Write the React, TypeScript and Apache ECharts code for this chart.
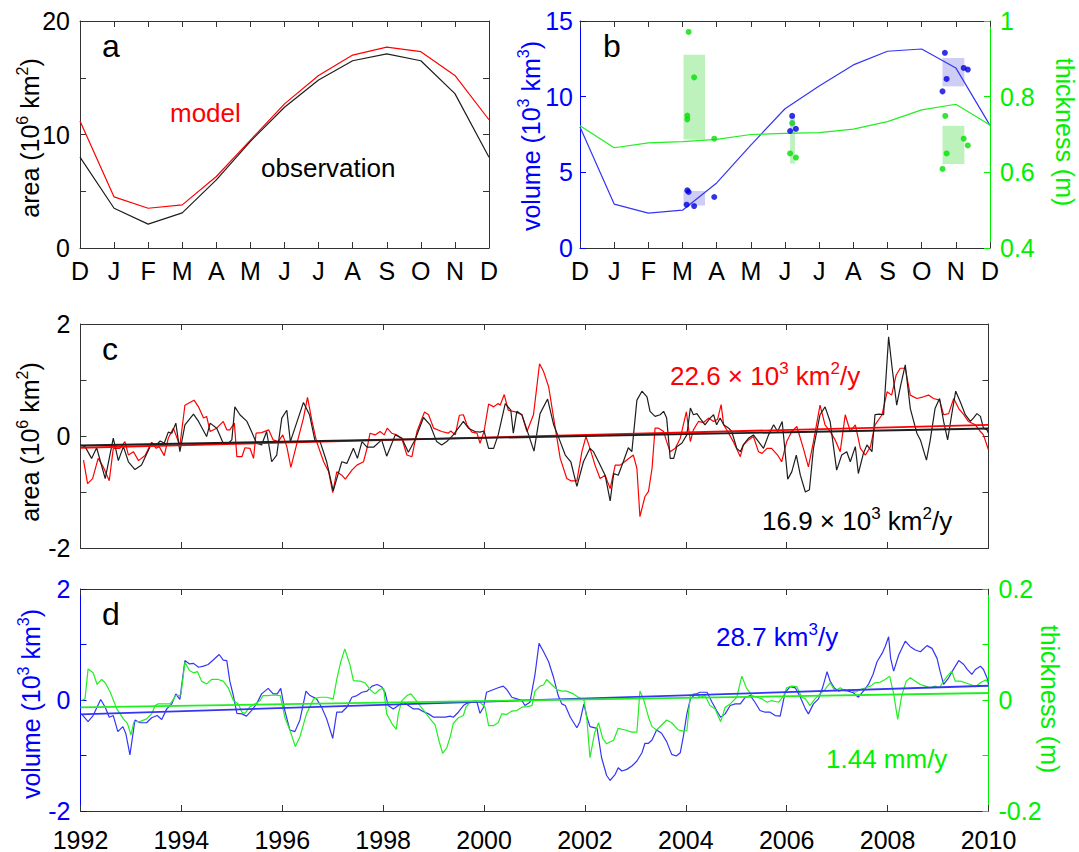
import React, { useEffect, useRef } from 'react';
import * as echarts from 'echarts';

const FONT = "'Liberation Sans', Arial, Helvetica, sans-serif";

// ---- panels a & b: seasonal cycle (x = month index, D=0 ... D=12)
const MONTHS = ['D', 'J', 'F', 'M', 'A', 'M', 'J', 'J', 'A', 'S', 'O', 'N', 'D'];
const MONTH_POS = [0, 1, 2, 3, 4, 5, 6, 7, 8, 9, 10, 11, 12];
const AREA_MODEL = [11.2, 4.5, 3.5, 3.8, 6.3, 9.5, 12.7, 15.2, 17.0, 17.7, 17.3, 15.2, 11.3];
const AREA_OBS = [8.0, 3.5, 2.1, 3.1, 6.0, 9.4, 12.4, 14.8, 16.5, 17.1, 16.5, 13.6, 8.0];
const VOLUME = [8.0, 2.9, 2.3, 2.5, 4.3, 6.8, 9.2, 10.7, 12.1, 13.0, 13.15, 11.9, 8.1];
const THICKNESS = [0.723, 0.665, 0.678, 0.681, 0.687, 0.7, 0.703, 0.705, 0.714, 0.734, 0.765, 0.78, 0.725];
const VOLUME_OBS: [number, number][] = [
  [3.14, 3.81], [3.18, 3.7], [3.12, 2.86], [3.34, 2.77], [3.93, 3.37],
  [6.21, 8.73], [6.15, 7.73], [6.32, 7.87],
  [10.68, 12.9], [10.61, 10.35], [10.73, 11.17], [11.23, 11.9], [11.35, 11.79],
];
const THICK_OBS: [number, number][] = [
  [3.18, 0.971], [3.34, 0.851], [3.14, 0.75], [3.14, 0.74], [3.93, 0.689],
  [6.21, 0.73], [6.15, 0.65], [6.32, 0.639],
  [10.69, 0.749], [10.73, 0.65], [10.61, 0.609], [11.23, 0.689], [11.35, 0.671],
];
// ranges: [xFrom, xTo, yFrom, yTo]
const VOLUME_RANGES = [
  [3.03, 3.66, 2.81, 3.77],
  [6.15, 6.29, 7.73, 8.7],
  [10.61, 11.25, 10.68, 12.56],
];
const THICK_RANGES = [
  [3.03, 3.66, 0.687, 0.911],
  [6.15, 6.29, 0.623, 0.716],
  [10.61, 11.25, 0.622, 0.723],
];

// ---- panel c: area anomalies (10^6 km^2)
const AREA_MODEL_ANOM: [number, number][] = [
  [1992.06, -0.43], [1992.14, -0.85], [1992.24, -0.76], [1992.35, -0.4], [1992.45, -0.55], [1992.57, -0.8], [1992.65, -0.22], [1992.78, -0.22], [1992.88, -0.1], [1992.95, -0.34],
  [1993.05, -0.28], [1993.15, -0.44], [1993.28, -0.35], [1993.41, -0.11], [1993.5, -0.22], [1993.56, -0.19], [1993.66, -0.35], [1993.74, -0.04], [1993.84, 0.14], [1993.97, -0.17],
  [1994.07, 0.55], [1994.25, 0.64], [1994.34, 0.52], [1994.44, 0.32], [1994.5, 0.35], [1994.57, 0.08], [1994.7, 0.14], [1994.83, 0.26], [1994.9, 0.11], [1994.96, 0.11],
  [1995.05, 0.23], [1995.1, -0.37], [1995.2, -0.37], [1995.26, -0.21], [1995.36, -0.22], [1995.43, -0.4], [1995.48, 0.05], [1995.59, 0.06], [1995.73, 0.11], [1995.82, -0.07], [1995.92, -0.1],
  [1996.01, 0.02], [1996.09, -0.19], [1996.17, -0.56], [1996.29, -0.13], [1996.42, 0.32], [1996.5, 0.69], [1996.59, 0.26], [1996.68, -0.1], [1996.82, -0.46], [1996.92, -0.64],
  [1997.0, -1.01], [1997.08, -0.64], [1997.18, -0.7], [1997.25, -0.77], [1997.38, -0.61], [1997.48, -0.52], [1997.61, -0.46], [1997.68, -0.22], [1997.74, 0.05], [1997.84, 0.02], [1997.94, 0.08],
  [1998.02, 0.02], [1998.08, 0.14], [1998.17, 0.05], [1998.27, 0.02], [1998.37, -0.04], [1998.47, -0.34], [1998.57, -0.37], [1998.67, 0.08], [1998.82, 0.43], [1998.9, 0.38],
  [1999.0, 0.14], [1999.16, 0.08], [1999.29, 0.05], [1999.34, 0.09], [1999.43, 0.02], [1999.51, 0.37], [1999.59, 0.38], [1999.66, 0.2], [1999.76, 0.07], [1999.86, 0.05], [1999.92, -0.13],
  [2000.0, 0.08], [2000.09, 0.57], [2000.19, 0.52], [2000.28, 0.58], [2000.32, 0.55], [2000.4, 0.74], [2000.48, 0.46], [2000.62, 0.43], [2000.75, 0.38], [2000.85, 0.08], [2000.98, 0.38],
  [2001.1, 1.29], [2001.18, 1.15], [2001.28, 0.88], [2001.38, 0.32], [2001.51, -0.4], [2001.64, -0.76], [2001.72, -0.8], [2001.84, -0.8], [2001.94, -0.28],
  [2002.02, -0.01], [2002.1, -0.22], [2002.2, -0.52], [2002.3, -0.76], [2002.4, -0.7], [2002.5, -0.94], [2002.6, -0.52], [2002.7, -0.52], [2002.83, -0.43], [2002.96, -0.34],
  [2003.03, -0.58], [2003.09, -1.44], [2003.19, -1.08], [2003.26, -0.99], [2003.33, -0.58], [2003.39, 0.14], [2003.46, 0.14], [2003.56, 0.08], [2003.62, -0.1], [2003.69, -0.28], [2003.79, -0.22], [2003.89, -0.04],
  [2004.01, 0.43], [2004.09, -0.1], [2004.15, 0.11], [2004.25, 0.26], [2004.35, 0.24], [2004.45, 0.32], [2004.55, 0.26], [2004.63, 0.3], [2004.7, 0.56], [2004.75, 0.2], [2004.85, 0.05], [2004.94, -0.1],
  [2005.08, -0.37], [2005.14, -0.16], [2005.24, -0.07], [2005.34, -0.01], [2005.44, -0.28], [2005.51, -0.31], [2005.61, -0.22], [2005.7, -0.22], [2005.82, -0.34], [2005.9, -0.46],
  [2006.0, -0.1], [2006.1, 0.08], [2006.2, 0.17], [2006.33, -0.22], [2006.43, -0.55], [2006.53, -0.1], [2006.66, 0.55], [2006.76, 0.2], [2006.86, 0.08], [2006.96, -0.07],
  [2007.06, -0.28], [2007.16, 0.38], [2007.26, 0.08], [2007.36, 0.2], [2007.46, -0.22], [2007.56, -0.34], [2007.66, -0.19], [2007.75, 0.2], [2007.89, 0.38], [2007.99, 0.79],
  [2008.08, 0.73], [2008.17, 1.09], [2008.25, 1.21], [2008.35, 1.21], [2008.45, 0.73], [2008.58, 0.67], [2008.71, 0.7], [2008.81, 0.73], [2008.91, 0.67],
  [2009.03, 0.64], [2009.11, 0.38], [2009.21, 0.4], [2009.31, 0.67], [2009.41, 0.49], [2009.51, 0.38], [2009.6, 0.26], [2009.74, 0.2], [2009.84, 0.08], [2009.9, 0.02], [2010.0, -0.25],
];
const AREA_OBS_ANOM: [number, number][] = [
  [1992.0, -0.16], [1992.09, -0.19], [1992.22, -0.4], [1992.32, -0.21], [1992.49, -0.76], [1992.65, -0.04], [1992.75, -0.44], [1992.85, -0.19], [1992.95, -0.46],
  [1993.08, -0.6], [1993.21, -0.52], [1993.41, -0.13], [1993.5, -0.16], [1993.58, -0.09], [1993.66, -0.13], [1993.74, 0.07], [1993.81, 0.05], [1993.89, 0.23], [1993.97, -0.28],
  [1994.07, 0.2], [1994.24, 0.39], [1994.34, 0.26], [1994.5, -0.01], [1994.57, 0.23], [1994.7, 0.14], [1994.83, -0.13], [1994.93, -0.13],
  [1995.0, -0.07], [1995.06, 0.52], [1995.16, 0.38], [1995.3, 0.26], [1995.39, 0.08], [1995.49, -0.13], [1995.59, -0.16], [1995.69, 0.08], [1995.79, -0.46], [1995.89, -0.34], [1995.99, 0.32],
  [1996.09, 0.46], [1996.16, -0.1], [1996.25, 0.14], [1996.42, 0.6], [1996.54, 0.38], [1996.65, -0.09], [1996.75, -0.1], [1996.88, -0.46],
  [1997.01, -0.98], [1997.08, -0.76], [1997.18, -0.46], [1997.28, -0.49], [1997.41, -0.22], [1997.49, -0.4], [1997.58, -0.1], [1997.68, -0.2], [1997.81, -0.2], [1997.97, -0.07],
  [1998.07, -0.36], [1998.24, 0.02], [1998.37, -0.04], [1998.5, -0.29], [1998.63, -0.07], [1998.8, 0.33], [1998.93, 0.2],
  [1999.06, -0.1], [1999.16, -0.16], [1999.26, -0.1], [1999.39, 0.02], [1999.59, 0.26], [1999.69, 0.14], [1999.82, 0.08], [1999.92, 0.07],
  [2000.0, 0.09], [2000.09, -0.22], [2000.19, -0.22], [2000.28, 0.02], [2000.42, 0.58], [2000.53, 0.46], [2000.58, 0.05], [2000.65, 0.44], [2000.75, 0.38], [2000.85, 0.11], [2000.99, -0.27],
  [2001.11, 0.4], [2001.26, 0.66], [2001.38, 0.2], [2001.51, -0.1], [2001.61, -0.34], [2001.72, -0.46], [2001.84, -0.9], [2001.97, -0.46],
  [2002.1, -0.22], [2002.17, -0.28], [2002.27, -0.46], [2002.4, -0.7], [2002.5, -1.16], [2002.57, -0.67], [2002.66, -0.7], [2002.76, -0.46], [2002.86, -0.21], [2002.93, -0.28],
  [2003.03, 0.64], [2003.13, 0.8], [2003.23, 0.7], [2003.29, 0.44], [2003.39, 0.35], [2003.49, 0.38], [2003.56, 0.44], [2003.62, 0.32], [2003.69, -0.4], [2003.76, -0.4], [2003.82, -0.19], [2003.92, -0.13],
  [2004.02, 0.02], [2004.09, 0.5], [2004.15, 0.38], [2004.22, 0.4], [2004.28, 0.32], [2004.38, 0.2], [2004.48, 0.32], [2004.55, 0.38], [2004.61, 0.2], [2004.68, 0.32], [2004.75, 0.2], [2004.85, 0.14], [2004.91, 0.08],
  [2005.01, -0.22], [2005.08, -0.28], [2005.14, -0.16], [2005.24, -0.04], [2005.34, 0.02], [2005.44, -0.1], [2005.54, -0.22], [2005.64, 0.02], [2005.74, 0.2], [2005.82, 0.08], [2005.91, 0.26],
  [2006.02, -0.77], [2006.1, -0.64], [2006.19, -0.34], [2006.27, -0.7], [2006.37, -1.0], [2006.45, -0.96], [2006.53, -0.22], [2006.66, 0.38], [2006.76, 0.52], [2006.86, 0.26], [2006.99, -0.61],
  [2007.09, -0.34], [2007.19, -0.28], [2007.26, -0.46], [2007.36, -0.19], [2007.42, -0.67], [2007.52, -0.31], [2007.59, -0.16], [2007.69, -0.28], [2007.75, 0.38], [2007.84, 0.39], [2007.92, 0.38],
  [2008.02, 1.77], [2008.09, 1.21], [2008.18, 0.55], [2008.26, 0.91], [2008.35, 1.27], [2008.45, 0.49], [2008.58, 0.05], [2008.65, -0.07], [2008.77, -0.43], [2008.84, -0.1], [2008.94, 0.49],
  [2009.03, 0.67], [2009.11, 0.26], [2009.19, -0.07], [2009.27, 0.38], [2009.35, 0.8], [2009.44, 0.61], [2009.54, 0.38], [2009.64, 0.26], [2009.7, 0.32], [2009.77, 0.4], [2009.84, 0.35], [2009.9, 0.14], [2009.97, 0.11], [2010.0, 0.05],
];
const AREA_MODEL_TREND: [number, number][] = [[1992, -0.21], [2010, 0.2]];
const AREA_OBS_TREND: [number, number][] = [[1992, -0.17], [2010, 0.134]];

// ---- panel d: volume (10^3 km^3) and thickness (m) anomalies
const VOL_ANOM: [number, number][] = [
  [1992.02, -0.25], [1992.15, -0.39], [1992.25, -0.28], [1992.4, 0.01], [1992.49, -0.13], [1992.57, -0.31], [1992.65, -0.28], [1992.74, -0.57], [1992.84, -0.48], [1992.9, -0.61], [1992.98, -0.99],
  [1993.08, -0.36], [1993.18, -0.41], [1993.31, -0.41], [1993.41, -0.32], [1993.52, -0.28], [1993.61, -0.35], [1993.71, -0.16], [1993.81, -0.07], [1993.89, 0.11], [1993.97, 0.01],
  [1994.07, 0.71], [1994.16, 0.65], [1994.24, 0.66], [1994.34, 0.59], [1994.44, 0.61], [1994.53, 0.64], [1994.63, 0.72], [1994.75, 0.82], [1994.83, 0.72], [1994.9, 0.71], [1994.96, 0.34],
  [1995.03, 0.08], [1995.1, -0.24], [1995.2, -0.25], [1995.29, -0.29], [1995.39, -0.19], [1995.49, -0.07], [1995.59, 0.11], [1995.72, 0.21], [1995.82, 0.11], [1995.9, 0.11], [1995.97, 0.21],
  [1996.05, -0.19], [1996.15, -0.54], [1996.25, -0.57], [1996.35, -0.36], [1996.47, 0.16], [1996.55, 0.08], [1996.68, 0.02], [1996.78, -0.13], [1996.88, -0.34],
  [1997.0, -0.69], [1997.08, -0.22], [1997.18, -0.22], [1997.28, -0.13], [1997.38, 0.05], [1997.48, 0.08], [1997.58, 0.14], [1997.68, 0.16], [1997.78, 0.25], [1997.88, 0.28], [1997.97, 0.24],
  [1998.04, 0.13], [1998.1, -0.1], [1998.2, -0.16], [1998.3, -0.1], [1998.4, -0.04], [1998.5, -0.1], [1998.6, -0.16], [1998.7, -0.16], [1998.8, -0.21], [1998.9, -0.25],
  [1999.0, -0.31], [1999.13, -0.31], [1999.23, -0.31], [1999.33, -0.29], [1999.39, -0.31], [1999.49, -0.22], [1999.59, -0.1], [1999.66, -0.06], [1999.76, -0.04], [1999.86, -0.04], [1999.92, -0.24], [1999.99, -0.13],
  [2000.05, 0.14], [2000.19, 0.19], [2000.28, 0.22], [2000.38, 0.25], [2000.45, 0.19], [2000.55, 0.05], [2000.65, 0.02], [2000.75, -0.01], [2000.81, -0.1], [2000.91, -0.04],
  [2001.01, 0.46], [2001.09, 1.02], [2001.18, 0.87], [2001.28, 0.69], [2001.38, 0.4], [2001.47, 0.08], [2001.54, -0.07], [2001.61, -0.1], [2001.71, -0.31], [2001.84, -0.5], [2001.9, -0.39], [2001.98, -0.07],
  [2002.04, -0.31], [2002.1, -0.48], [2002.24, -0.51], [2002.33, -1.04], [2002.43, -1.36], [2002.5, -1.45], [2002.6, -1.34], [2002.66, -1.22], [2002.73, -1.28], [2002.83, -1.25], [2002.93, -1.19],
  [2003.03, -1.1], [2003.13, -0.95], [2003.19, -0.78], [2003.26, -0.78], [2003.33, -0.72], [2003.42, -0.54], [2003.52, -0.6], [2003.62, -0.75], [2003.72, -0.98], [2003.81, -1.01], [2003.89, -0.95], [2003.95, -0.66],
  [2004.02, -0.25], [2004.09, 0.02], [2004.18, 0.1], [2004.28, 0.14], [2004.42, 0.14], [2004.52, -0.04], [2004.61, -0.19], [2004.69, -0.31], [2004.78, -0.25], [2004.88, -0.1], [2004.98, -0.07],
  [2005.08, -0.07], [2005.18, 0.05], [2005.28, 0.08], [2005.37, -0.04], [2005.47, -0.19], [2005.57, -0.22], [2005.67, -0.22], [2005.77, -0.28], [2005.87, -0.29], [2005.97, 0.14],
  [2006.07, 0.24], [2006.17, 0.22], [2006.27, 0.05], [2006.37, -0.16], [2006.43, -0.25], [2006.53, -0.07], [2006.63, 0.02], [2006.71, 0.22], [2006.8, 0.51], [2006.86, 0.34], [2006.94, 0.22],
  [2007.03, 0.16], [2007.13, 0.19], [2007.22, 0.16], [2007.32, 0.13], [2007.42, 0.05], [2007.52, 0.16], [2007.62, 0.28], [2007.71, 0.46], [2007.79, 0.69], [2007.89, 0.84], [2007.95, 0.96],
  [2008.02, 1.14], [2008.06, 0.75], [2008.12, 0.52], [2008.22, 0.81], [2008.35, 1.06], [2008.45, 0.96], [2008.55, 0.9], [2008.65, 0.87], [2008.78, 0.98], [2008.88, 0.93], [2008.98, 0.75],
  [2009.04, 0.52], [2009.11, 0.28], [2009.21, 0.4], [2009.31, 0.56], [2009.41, 0.71], [2009.51, 0.64], [2009.57, 0.56], [2009.67, 0.46], [2009.74, 0.55], [2009.84, 0.61], [2009.9, 0.55], [2009.97, 0.4], [2010.0, 0.28],
];
const THICK_ANOM: [number, number][] = [
  [1992.02, -0.001], [1992.09, 0.002], [1992.15, 0.056], [1992.25, 0.049], [1992.33, 0.028], [1992.42, 0.037], [1992.49, 0.031], [1992.59, 0.014], [1992.72, -0.016], [1992.85, -0.034], [1992.93, -0.042],
  [1993.0, -0.063], [1993.06, -0.039], [1993.18, -0.039], [1993.31, -0.034], [1993.41, -0.025], [1993.48, -0.01], [1993.54, -0.007], [1993.68, -0.007], [1993.78, -0.007], [1993.89, 0.008], [1993.99, 0.009],
  [1994.07, 0.068], [1994.16, 0.053], [1994.24, 0.049], [1994.32, 0.051], [1994.4, 0.034], [1994.5, 0.029], [1994.6, 0.037], [1994.73, 0.037], [1994.83, 0.034], [1994.93, 0.022],
  [1995.03, -0.001], [1995.13, -0.007], [1995.2, -0.022], [1995.26, -0.024], [1995.36, -0.012], [1995.46, -0.007], [1995.56, -0.001], [1995.62, 0.008], [1995.72, 0.008], [1995.82, 0.009], [1995.96, 0.008],
  [1996.05, -0.031], [1996.15, -0.054], [1996.26, -0.084], [1996.35, -0.066], [1996.48, -0.025], [1996.62, 0.002], [1996.75, 0.005], [1996.88, 0.005],
  [1997.01, 0.002], [1997.08, 0.037], [1997.16, 0.069], [1997.24, 0.092], [1997.34, 0.064], [1997.41, 0.035], [1997.54, 0.034], [1997.64, 0.031], [1997.74, 0.019], [1997.84, 0.011], [1997.93, 0.019],
  [1998.01, 0.021], [1998.07, -0.025], [1998.17, -0.042], [1998.26, -0.053], [1998.3, -0.025], [1998.37, -0.001], [1998.47, 0.008], [1998.55, 0.011], [1998.63, 0.002], [1998.73, -0.01], [1998.83, -0.022], [1998.93, -0.034],
  [1999.03, -0.045], [1999.12, -0.078], [1999.18, -0.096], [1999.26, -0.086], [1999.33, -0.066], [1999.39, -0.042], [1999.49, -0.032], [1999.59, -0.028], [1999.64, -0.013], [1999.72, -0.004], [1999.82, -0.001], [1999.92, -0.004],
  [2000.02, -0.013], [2000.09, -0.046], [2000.19, -0.046], [2000.28, -0.041], [2000.35, -0.025], [2000.45, -0.026], [2000.55, -0.02], [2000.65, -0.019], [2000.75, -0.013], [2000.85, -0.012], [2000.95, -0.01],
  [2001.01, 0.016], [2001.11, 0.025], [2001.18, 0.027], [2001.24, 0.037], [2001.34, 0.028], [2001.44, 0.019], [2001.54, 0.016], [2001.64, 0.016], [2001.77, 0.011], [2001.87, 0.005], [2001.98, 0.0],
  [2002.04, -0.036], [2002.1, -0.104], [2002.19, -0.06], [2002.27, -0.041], [2002.35, -0.069], [2002.43, -0.079], [2002.57, -0.072], [2002.66, -0.051], [2002.8, -0.054], [2002.93, -0.058],
  [2003.03, -0.058], [2003.09, 0.016], [2003.16, 0.002], [2003.26, -0.031], [2003.33, -0.048], [2003.42, -0.054], [2003.52, -0.045], [2003.62, -0.036], [2003.72, -0.041], [2003.85, -0.054], [2003.95, -0.056],
  [2004.02, -0.055], [2004.09, 0.008], [2004.18, 0.012], [2004.28, 0.005], [2004.38, 0.008], [2004.48, -0.01], [2004.58, -0.016], [2004.69, -0.039], [2004.78, -0.013], [2004.88, -0.007],
  [2005.01, 0.005], [2005.11, 0.043], [2005.2, 0.022], [2005.31, 0.008], [2005.41, 0.005], [2005.51, 0.002], [2005.61, -0.004], [2005.7, -0.001], [2005.84, -0.004], [2005.94, 0.008],
  [2006.0, 0.022], [2006.1, 0.025], [2006.2, 0.024], [2006.3, 0.005], [2006.37, 0.002], [2006.46, -0.01], [2006.56, 0.002], [2006.66, 0.011], [2006.76, 0.019], [2006.86, 0.031], [2006.96, 0.016],
  [2007.06, 0.022], [2007.16, 0.016], [2007.25, 0.019], [2007.36, 0.014], [2007.46, 0.019], [2007.56, 0.022], [2007.66, 0.025], [2007.75, 0.031], [2007.85, 0.032], [2007.95, 0.037],
  [2008.04, 0.043], [2008.12, 0.011], [2008.2, -0.035], [2008.28, 0.008], [2008.37, 0.034], [2008.45, 0.04], [2008.55, 0.034], [2008.65, 0.028], [2008.75, 0.025], [2008.84, 0.022], [2008.94, 0.025],
  [2009.03, 0.022], [2009.11, 0.034], [2009.19, 0.044], [2009.27, 0.052], [2009.34, 0.034], [2009.44, 0.034], [2009.54, 0.031], [2009.64, 0.028], [2009.74, 0.024], [2009.84, 0.031], [2009.94, 0.036], [2010.0, 0.033],
];
const VOL_TREND: [number, number][] = [[1992, -0.26], [2010, 0.257]];
const THICK_TREND: [number, number][] = [[1992, -0.0133], [2010, 0.0126]];

// ---- colours
const RED = '#ff0000';
const DARK = '#1e1e1e';
const BLUE = '#0000ff';
const BLUE_LINE = '#3535f5';
const GREEN = '#00f000';
const GREEN_LINE = '#22ee22';
const AXIS = '#333333';

const TICK_FS = 25;

function axis(o: any) {
  const color = o.color || AXIS;
  return {
    type: 'value',
    gridIndex: o.grid,
    position: o.position,
    min: o.min,
    max: o.max,
    interval: o.interval,
    axisLine: { show: true, onZero: false, lineStyle: { color, width: 1 } },
    axisTick: { show: true, inside: true, length: 6, lineStyle: { color: o.tickColor || color, width: 1 } },
    axisLabel: {
      show: !!o.formatter,
      color: o.labelColor || '#000',
      fontSize: TICK_FS,
      fontFamily: FONT,
      margin: o.margin ?? 10,
      formatter: o.formatter,
    },
    splitLine: { show: false },
  };
}

function richStyle(fs: number, sfs: number, color: string) {
  return {
    n: { fontSize: fs, fontFamily: FONT, fill: color, color, lineHeight: fs + 7 },
    s: { fontSize: sfs, fontFamily: FONT, fill: color, color, lineHeight: sfs, verticalAlign: 'top' },
  };
}

function label(text: string, x: number, y: number, color: string, fs: number, opts: any = {}) {
  return {
    type: 'text',
    x,
    y,
    rotation: opts.rotation || 0,
    z: 100,
    style: {
      text,
      fill: color,
      fontSize: fs,
      fontFamily: FONT,
      align: opts.align || 'left',
      verticalAlign: 'middle',
      textAlign: opts.align || 'left',
      textVerticalAlign: 'middle',
      rich: richStyle(fs, Math.round(fs * 0.64), color),
    },
  };
}

const monthFmt = (v: number) => MONTHS[Math.round(v)] ?? '';
const yearFmt = (v: number) => String(Math.round(v));

const rectRender = (fill: string) => (params: any, api: any) => {
  const p1 = api.coord([api.value(0), api.value(2)]);
  const p2 = api.coord([api.value(1), api.value(3)]);
  return {
    type: 'rect',
    shape: { x: p1[0], y: p2[1], width: p2[0] - p1[0], height: p1[1] - p2[1] },
    style: { fill },
  };
};

const lineSeries = (xi: number, yi: number, data: any, color: string, width = 1.2, z = 3) => ({
  type: 'line',
  xAxisIndex: xi,
  yAxisIndex: yi,
  data,
  symbol: 'none',
  lineStyle: { color, width },
  z,
  silent: true,
});

const option: any = {
  animation: false,
  backgroundColor: '#ffffff',
  grid: [
    { left: 80, top: 21, width: 409, height: 227 },
    { left: 580, top: 21, width: 410, height: 227 },
    { left: 80.5, top: 324, width: 908, height: 224 },
    { left: 80.5, top: 589, width: 908, height: 225 },
  ],
  xAxis: [
    axis({ grid: 0, position: 'bottom', min: 0, max: 12, interval: 1, formatter: monthFmt, margin: 10 }),
    axis({ grid: 0, position: 'top', min: 0, max: 12, interval: 1 }),
    axis({ grid: 1, position: 'bottom', min: 0, max: 12, interval: 1, formatter: monthFmt, margin: 10 }),
    axis({ grid: 1, position: 'top', min: 0, max: 12, interval: 1 }),
    axis({ grid: 2, position: 'bottom', min: 1992, max: 2010, interval: 2 }),
    axis({ grid: 2, position: 'top', min: 1992, max: 2010, interval: 2 }),
    axis({ grid: 3, position: 'bottom', min: 1992, max: 2010, interval: 2, formatter: yearFmt, margin: 16 }),
    axis({ grid: 3, position: 'top', min: 1992, max: 2010, interval: 2 }),
  ],
  yAxis: [
    axis({ grid: 0, position: 'left', min: 0, max: 20, interval: 5, formatter: (v: number) => (v % 10 === 0 ? String(v) : '') }),
    axis({ grid: 0, position: 'right', min: 0, max: 20, interval: 5 }),
    axis({ grid: 1, position: 'left', min: 0, max: 15, interval: 5, color: BLUE, labelColor: BLUE, margin: 7, formatter: (v: number) => String(v) }),
    axis({ grid: 1, position: 'right', min: 0.4, max: 1, interval: 0.2, color: GREEN, labelColor: GREEN, formatter: (v: number) => String(Math.round(v * 10) / 10) }),
    axis({ grid: 2, position: 'left', min: -2, max: 2, interval: 1, formatter: (v: number) => (Math.round(v) % 2 === 0 ? String(Math.round(v)) : '') }),
    axis({ grid: 2, position: 'right', min: -2, max: 2, interval: 1 }),
    axis({ grid: 3, position: 'left', min: -2, max: 2, interval: 1, color: BLUE, labelColor: BLUE, formatter: (v: number) => (Math.round(v) % 2 === 0 ? String(Math.round(v)) : '') }),
    axis({ grid: 3, position: 'right', min: -0.2, max: 0.2, interval: 0.1, color: GREEN, labelColor: GREEN, formatter: (v: number) => (Math.round(v * 10) % 2 === 0 ? String(Math.round(v * 10) / 10) : '') }),
  ],
  series: [
    // panel a
    lineSeries(0, 0, MONTH_POS.map((m, i) => [m, AREA_MODEL[i]]), RED),
    lineSeries(0, 0, MONTH_POS.map((m, i) => [m, AREA_OBS[i]]), DARK),
    // panel b ranges
    {
      type: 'custom', xAxisIndex: 2, yAxisIndex: 3, data: THICK_RANGES, encode: { x: [0, 1], y: [2, 3] },
      renderItem: rectRender('#bdf2bd'), z: 1, silent: true,
    },
    {
      type: 'custom', xAxisIndex: 2, yAxisIndex: 2, data: VOLUME_RANGES, encode: { x: [0, 1], y: [2, 3] },
      renderItem: rectRender('#cdcdf5'), z: 1, silent: true,
    },
    lineSeries(2, 2, MONTH_POS.map((m, i) => [m, VOLUME[i]]), BLUE_LINE),
    lineSeries(2, 3, MONTH_POS.map((m, i) => [m, THICKNESS[i]]), GREEN_LINE),
    { type: 'scatter', xAxisIndex: 2, yAxisIndex: 2, data: VOLUME_OBS, symbolSize: 6, itemStyle: { color: '#0000e0' }, z: 4, silent: true },
    { type: 'scatter', xAxisIndex: 2, yAxisIndex: 3, data: THICK_OBS, symbolSize: 6, itemStyle: { color: '#00e000' }, z: 4, silent: true },
    // panel c
    lineSeries(4, 4, AREA_MODEL_ANOM, RED),
    lineSeries(4, 4, AREA_OBS_ANOM, DARK),
    lineSeries(4, 4, AREA_MODEL_TREND, RED, 1.8, 4),
    lineSeries(4, 4, AREA_OBS_TREND, DARK, 1.8, 4),
    // panel d
    lineSeries(6, 6, VOL_ANOM, BLUE_LINE),
    lineSeries(6, 7, THICK_ANOM, GREEN_LINE),
    lineSeries(6, 6, VOL_TREND, BLUE_LINE, 1.8, 4),
    lineSeries(6, 7, THICK_TREND, GREEN_LINE, 1.8, 4),
  ],
  graphic: [
    label('a', 102, 46, '#000', 32),
    label('b', 603, 46, '#000', 32),
    label('c', 102, 349, '#000', 32),
    label('d', 102, 614, '#000', 32),
    label('model', 170, 113, RED, 26),
    label('observation', 261, 168, '#000', 26),
    label('{n|22.6 × 10}{s|3}{n| km}{s|2}{n|/y}', 670, 376, RED, 26),
    label('{n|16.9 × 10}{s|3}{n| km}{s|2}{n|/y}', 762, 521, '#000', 26),
    label('{n|28.7 km}{s|3}{n|/y}', 716, 637, BLUE, 26),
    label('{n|1.44 mm/y}', 826, 759, GREEN, 26),
    label('{n|area (10}{s|6}{n| km}{s|2}{n|)}', 30, 138, '#000', 25, { rotation: Math.PI / 2, align: 'center' }),
    label('{n|volume (10}{s|3}{n| km}{s|3}{n|)}', 531, 136, BLUE, 25, { rotation: Math.PI / 2, align: 'center' }),
    label('{n|thickness (m)}', 1065, 132, GREEN, 25, { rotation: -Math.PI / 2, align: 'center' }),
    label('{n|area (10}{s|6}{n| km}{s|2}{n|)}', 30, 442, '#000', 25, { rotation: Math.PI / 2, align: 'center' }),
    label('{n|volume (10}{s|3}{n| km}{s|3}{n|)}', 31, 704, BLUE, 25, { rotation: Math.PI / 2, align: 'center' }),
    label('{n|thickness (m)}', 1050, 699, GREEN, 25, { rotation: -Math.PI / 2, align: 'center' }),
  ],
};

export default function App() {
  const ref = useRef<HTMLDivElement>(null);
  useEffect(() => {
    if (!ref.current) return;
    const chart = echarts.init(ref.current, null, { renderer: 'svg' });
    chart.setOption(option);
    return () => chart.dispose();
  }, []);
  return (
    <div
      ref={ref}
      style={{ position: 'absolute', left: 0, top: 0, width: 1079, height: 852, background: '#fff' }}
    />
  );
}
